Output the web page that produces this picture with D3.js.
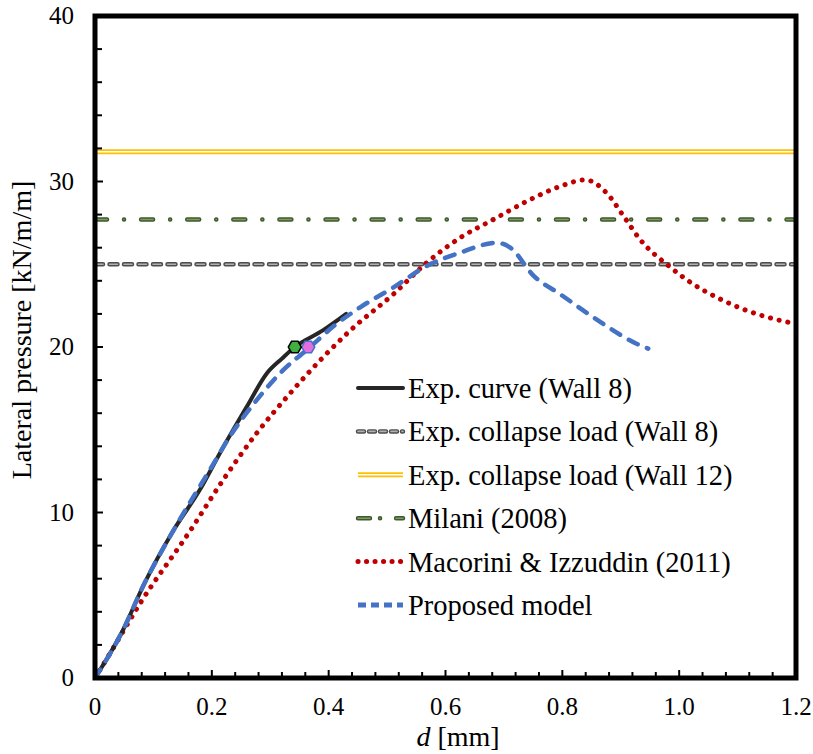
<!DOCTYPE html>
<html>
<head>
<meta charset="utf-8">
<script src="https://cdnjs.cloudflare.com/ajax/libs/d3/7.8.5/d3.min.js"></script>
<style>
  body { margin: 0; background: #fff; }
  text { font-family: "Liberation Serif", "Times New Roman", serif; }
</style>
</head>
<body>
<div id="chart"></div>
<script>
// ---- data ----
const expX = [0, 0.048, 0.083, 0.134, 0.18, 0.214, 0.26, 0.294, 0.32, 0.342, 0.39, 0.43];
const expY = [0, 2.9, 5.6, 8.9, 11.4, 13.6, 16.4, 18.4, 19.3, 20.0, 21.0, 22.0];

const propX = [0, 0.048, 0.083, 0.134, 0.197, 0.231, 0.277, 0.322, 0.365, 0.41, 0.454, 0.511, 0.568, 0.625, 0.688, 0.711, 0.751, 0.796, 0.853, 0.927, 0.947];
const propY = [0, 2.9, 5.6, 8.9, 12.6, 14.6, 16.8, 18.6, 19.9, 21.3, 22.4, 23.6, 24.9, 25.7, 26.3, 26.0, 24.3, 23.2, 21.8, 20.2, 19.9];

const macX = [0, 0.026, 0.077, 0.163, 0.22, 0.277, 0.334, 0.391, 0.437, 0.511, 0.568, 0.625, 0.682, 0.739, 0.796, 0.839, 0.876, 0.905, 0.933, 0.982, 1.024, 1.07, 1.116, 1.162, 1.2];
const macY = [0, 1.5, 4.5, 8.9, 12.0, 14.8, 17.2, 19.4, 21.0, 23.2, 25.1, 26.6, 27.7, 28.8, 29.7, 30.1, 29.3, 27.9, 26.5, 24.9, 23.8, 22.9, 22.2, 21.7, 21.4];

const collapseWall8 = 25.0;
const collapseWall12 = 31.8;
const milani = 27.7;

const expMarker = [0.342, 20.0];
const propMarker = [0.365, 20.0];

const xTicks = [0, 0.2, 0.4, 0.6, 0.8, 1.0, 1.2];
const xTickLabels = ["0", "0.2", "0.4", "0.6", "0.8", "1.0", "1.2"];
const yTicks = [0, 10, 20, 30, 40];

const legendLabels = [
  "Exp. curve (Wall 8)",
  "Exp. collapse load (Wall 8)",
  "Exp. collapse load (Wall 12)",
  "Milani (2008)",
  "Macorini & Izzuddin (2011)",
  "Proposed model"
];

// ---- layout ----
const W = 813, H = 754;
const margin = {top: 16, right: 17, bottom: 76, left: 95};
const width = W - margin.left - margin.right;
const height = H - margin.top - margin.bottom;

const svg = d3.select("#chart").append("svg")
  .attr("width", W).attr("height", H);
const g = svg.append("g")
  .attr("transform", "translate(" + margin.left + "," + margin.top + ")");

const x = d3.scaleLinear().domain([0, 1.2]).range([0, width]);
const y = d3.scaleLinear().domain([0, 40]).range([height, 0]);

g.append("clipPath").attr("id", "clip")
  .append("rect").attr("width", width).attr("height", height);

const plot = g.append("g").attr("clip-path", "url(#clip)");

// styled line helpers
function hline(val, layers) {
  layers.forEach(function(l) {
    plot.append("line")
      .attr("x1", 0).attr("x2", width)
      .attr("y1", y(val)).attr("y2", y(val))
      .attr("stroke", l.color).attr("stroke-width", l.w)
      .attr("stroke-dasharray", l.dash || null)
      .attr("stroke-linecap", l.cap || "butt");
  });
}

const styles = {
  wall8: [
    {color: "#4d4d4d", w: 4.5, dash: "8,6.5", cap: "round"},
    {color: "#b0b0b0", w: 1.6, dash: "8,6.5", cap: "round"}
  ],
  wall12: [
    {color: "#ffc000", w: 5},
    {color: "#ffffff", w: 1.4}
  ],
  milani: [
    {color: "#3d5a2a", w: 4.5, dash: "12,17,0.1,17", cap: "round"},
    {color: "#7f9a66", w: 1.6, dash: "12,17,0.1,17", cap: "round"}
  ]
};

hline(collapseWall12, styles.wall12);
hline(milani, styles.milani);
hline(collapseWall8, styles.wall8);

const line = d3.line().curve(d3.curveMonotoneX);
function series(xs, ys) { return xs.map(function(v, i) { return [x(v), y(ys[i])]; }); }

plot.append("path").attr("d", line(series(macX, macY)))
  .attr("fill", "none").attr("stroke", "#c00000").attr("stroke-width", 5)
  .attr("stroke-dasharray", "0.1,8.8").attr("stroke-linecap", "round");

plot.append("path").attr("d", line(series(expX, expY)))
  .attr("fill", "none").attr("stroke", "#262626").attr("stroke-width", 4)
  .attr("stroke-linecap", "round");

plot.append("path").attr("d", line(series(propX, propY)))
  .attr("fill", "none").attr("stroke", "#4472c4").attr("stroke-width", 4.5)
  .attr("stroke-dasharray", "10,10").attr("stroke-linecap", "round");

function hexagon(cx, cy, r) {
  const pts = d3.range(6).map(function(i) {
    const a = Math.PI / 3 * i;
    return [cx + r * Math.cos(a), cy + r * Math.sin(a)];
  });
  return "M" + pts.join("L") + "Z";
}

g.append("path").attr("d", hexagon(x(propMarker[0]), y(propMarker[1]), 6.5))
  .attr("fill", "#e46de0").attr("stroke", "#4472c4").attr("stroke-width", 1.5);
g.append("path").attr("d", hexagon(x(expMarker[0]), y(expMarker[1]), 6.5))
  .attr("fill", "#3fb03f").attr("stroke", "#000").attr("stroke-width", 1.5);

// ---- axes ----
const xMinor = d3.range(0, 1.2001, 0.04);
const yMinor = d3.range(0, 40.001, 2);

g.selectAll(".xminor").data(xMinor).enter().append("line")
  .attr("x1", function(d) { return x(d); }).attr("x2", function(d) { return x(d); })
  .attr("y1", height).attr("y2", function(d) {
    return height - (xTicks.some(function(t) { return Math.abs(t - d) < 1e-6; }) ? 8 : 6);
  })
  .attr("stroke", "#000").attr("stroke-width", 2);

g.selectAll(".yminor").data(yMinor).enter().append("line")
  .attr("y1", function(d) { return y(d); }).attr("y2", function(d) { return y(d); })
  .attr("x1", 0).attr("x2", function(d) { return d % 10 === 0 ? 8 : 7; })
  .attr("stroke", "#000").attr("stroke-width", 2);

g.append("rect").attr("width", width).attr("height", height)
  .attr("fill", "none").attr("stroke", "#000").attr("stroke-width", 5);

g.selectAll(".xlab").data(xTicks).enter().append("text")
  .attr("x", function(d) { return x(d); }).attr("y", height + 37)
  .attr("text-anchor", "middle").attr("font-size", 25)
  .text(function(d, i) { return xTickLabels[i]; });

g.selectAll(".ylab").data(yTicks).enter().append("text")
  .attr("x", -21).attr("y", function(d) { return y(d) + 8; })
  .attr("text-anchor", "end").attr("font-size", 25)
  .text(function(d) { return d; });

const xt = svg.append("text").attr("x", 458).attr("y", 746)
  .attr("text-anchor", "middle").attr("font-size", 28);
xt.append("tspan").attr("font-style", "italic").text("d");
xt.append("tspan").text(" [mm]");

svg.append("text")
  .attr("transform", "translate(31,330) rotate(-90)")
  .attr("text-anchor", "middle").attr("font-size", 28)
  .text("Lateral pressure [kN/m/m]");

// ---- legend ----
const legend = g.append("g").attr("transform", "translate(261,372)");
const rowH = 43.4;
const lx1 = 0, lx2 = 49;

legendLabels.forEach(function(lbl, i) {
  const ry = i * rowH;
  const row = legend.append("g").attr("transform", "translate(0," + ry + ")");
  function seg(color, w, dash, cap) {
    row.append("line").attr("x1", lx1 + 2).attr("x2", lx2 - 2).attr("y1", 0).attr("y2", 0)
      .attr("stroke", color).attr("stroke-width", w)
      .attr("stroke-dasharray", dash || null).attr("stroke-linecap", cap || "butt");
  }
  if (i === 0) seg("#262626", 4, null, "round");
  if (i === 1) styles.wall8.forEach(function(l) { seg(l.color, l.w, "6,5", l.cap); });
  if (i === 2) styles.wall12.forEach(function(l) { seg(l.color, l.w); });
  if (i === 3) styles.milani.forEach(function(l) { seg(l.color, l.w, "12,10,0.1,16", l.cap); });
  if (i === 4) seg("#c00000", 5, "0.1,8.4", "round");
  if (i === 5) seg("#4472c4", 5, "8,5", "butt");
  row.append("text").attr("x", lx2 + 3).attr("y", 10)
    .attr("font-size", 28.5).text(lbl);
});
</script>
</body>
</html>
